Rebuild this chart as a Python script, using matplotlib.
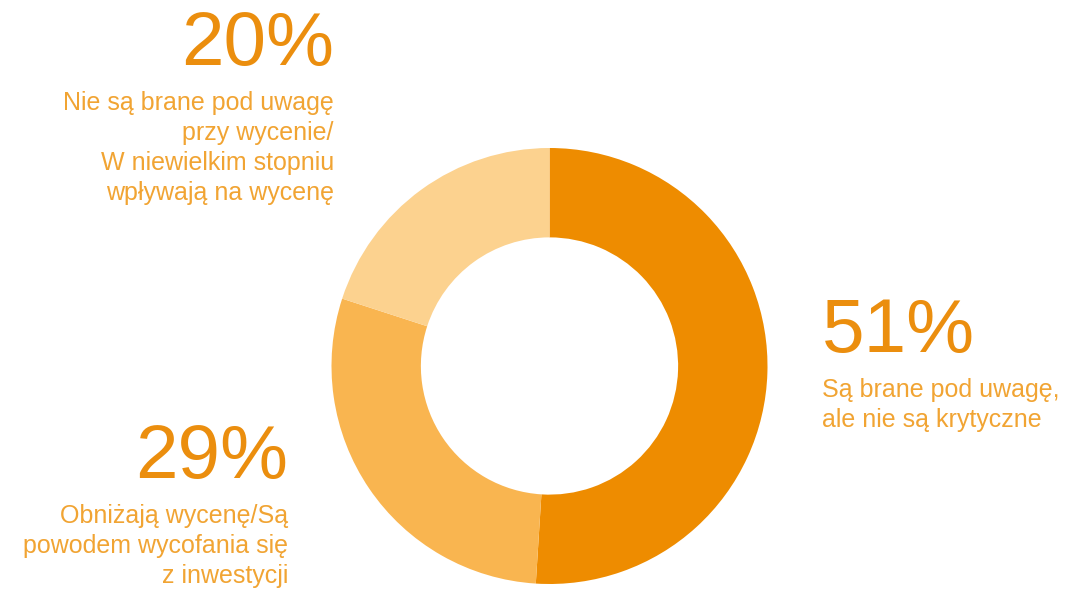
import matplotlib.pyplot as plt

# donut data (clockwise from 12 o'clock)
shares = [51, 29, 20]
labels = ["51%", "29%", "20%"]
descriptions = [
    "Są brane pod uwagę,\nale nie są krytyczne",
    "Obniżają wycenę/Są\npowodem wycofania się\nz inwestycji",
    "Nie są brane pod uwagę\nprzy wycenie/\nW niewielkim stopniu\nwpływają na wycenę",
]
colors = ["#EE8C00", "#F9B550", "#FCD28F"]

W, H = 1071, 594
fig = plt.figure(figsize=(W / 100, H / 100), dpi=100)
plt.rcParams['font.family'] = ['Liberation Sans', 'DejaVu Sans']

# donut axes, placed in pixel coords
cx, cy, r = 549.5, 366, 218
ax = fig.add_axes([(cx - r) / W, (H - cy - r) / H, 2 * r / W, 2 * r / H])
ax.pie(shares, colors=colors, startangle=90, counterclock=False, radius=1,
       wedgeprops=dict(width=0.41, linewidth=0))
ax.set_xlim(-1, 1)
ax.set_ylim(-1, 1)
ax.axis("off")

big_col = "#EB8E0E"
small_col = "#F1A433"

def px(x, y):
    return x / W, (H - y) / H

def block(x, y_big, text_big, text_small, ha):
    fig.text(*px(x, y_big), text_big, ha=ha, va="baseline", fontsize=55, color=big_col)
    lines = text_small.split("\n")
    for i, line in enumerate(lines):
        fig.text(*px(x, y_big + 45 + 30 * i), line, ha=ha, va="baseline",
                 fontsize=18, color=small_col)

block(822, 352, labels[0], descriptions[0], "left")
block(288, 478, labels[1], descriptions[1], "right")
block(334, 65, labels[2], descriptions[2], "right")

fig.savefig("out.png", dpi=100)
